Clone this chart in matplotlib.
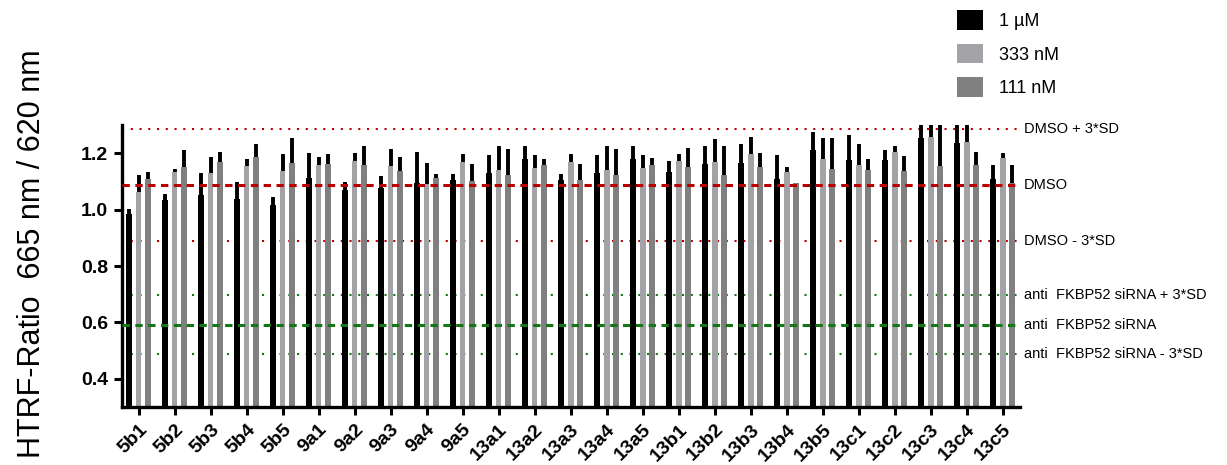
import matplotlib.pyplot as plt
import matplotlib.transforms as mtransforms
import numpy as np

plt.rcParams['font.family'] = ['Liberation Sans', 'DejaVu Sans']

# compounds on the x axis
labels = ['5b1', '5b2', '5b3', '5b4', '5b5', '9a1', '9a2', '9a3', '9a4', '9a5',
          '13a1', '13a2', '13a3', '13a4', '13a5', '13b1', '13b2', '13b3', '13b4', '13b5',
          '13c1', '13c2', '13c3', '13c4', '13c5']

# HTRF ratio means and upper errors, per concentration
v_1uM = [0.985, 1.035, 1.053, 1.039, 1.018, 1.112, 1.068, 1.078, 1.095, 1.104,
         1.128, 1.181, 1.104, 1.128, 1.181, 1.133, 1.163, 1.167, 1.108, 1.210,
         1.177, 1.177, 1.253, 1.236, 1.108]
e_1uM = [0.017, 0.020, 0.077, 0.059, 0.026, 0.088, 0.030, 0.040, 0.111, 0.023,
         0.064, 0.045, 0.023, 0.064, 0.045, 0.041, 0.061, 0.064, 0.084, 0.064,
         0.088, 0.036, 0.100, 0.100, 0.051]
v_333nM = [1.061, 1.133, 1.130, 1.153, 1.138, 1.159, 1.171, 1.153, 1.092, 1.168,
           1.141, 1.147, 1.168, 1.141, 1.147, 1.173, 1.168, 1.197, 1.133, 1.179,
           1.159, 1.204, 1.256, 1.241, 1.183]
e_333nM = [0.063, 0.011, 0.056, 0.027, 0.060, 0.027, 0.029, 0.061, 0.073, 0.029,
           0.084, 0.045, 0.029, 0.084, 0.045, 0.023, 0.082, 0.062, 0.018, 0.074,
           0.073, 0.023, 0.080, 0.080, 0.017]
v_111nM = [1.110, 1.151, 1.170, 1.188, 1.165, 1.163, 1.157, 1.138, 1.113, 1.102,
           1.124, 1.159, 1.104, 1.124, 1.159, 1.151, 1.121, 1.151, 1.094, 1.144,
           1.140, 1.138, 1.153, 1.159, 1.094]
e_111nM = [0.022, 0.059, 0.035, 0.045, 0.088, 0.034, 0.069, 0.050, 0.013, 0.061,
           0.092, 0.021, 0.059, 0.092, 0.023, 0.067, 0.103, 0.049, 0.000, 0.109,
           0.040, 0.053, 0.160, 0.044, 0.065]

series_names = ['1 µM', '333 nM', '111 nM']
series_colors = ['#000000', '#a3a3a7', '#808080']

# control reference levels
dmso = 1.087
dmso_3sd = 0.200
sirna = 0.592
sirna_3sd = 0.104

fig = plt.figure(figsize=(12.27, 4.65), dpi=100)
ax = fig.add_axes([0.0994, 0.1247, 0.7319, 0.6065])

x = np.arange(len(labels))
width = 0.16
offsets = [-0.265, 0.0, 0.265]
vals = [v_1uM, v_333nM, v_111nM]
errs = [e_1uM, e_333nM, e_111nM]

for v, e, off, col, name in zip(vals, errs, offsets, series_colors, series_names):
    ax.bar(x + off, v, width, color=col, label=name, zorder=2)
    ax.errorbar(x + off, v, yerr=[np.zeros(len(e)), e], fmt='none', ecolor='black',
                elinewidth=2.8, capsize=0, zorder=3)

red = '#b80000'
green = '#137813'
dot = (0, (1, 3.2))
dash = (0, (2.4, 1.8))
ax.axhline(dmso + dmso_3sd, color=red, ls=dot, lw=1.5, zorder=1)
ax.axhline(dmso, color=red, ls=dash, lw=2.2, zorder=4)
ax.axhline(dmso - dmso_3sd, color=red, ls=dot, lw=1.5, zorder=1)
ax.axhline(sirna + sirna_3sd, color=green, ls=dot, lw=1.5, zorder=1)
ax.axhline(sirna, color=green, ls=dash, lw=2.2, zorder=4)
ax.axhline(sirna - sirna_3sd, color=green, ls=dot, lw=1.5, zorder=1)

trans = mtransforms.blended_transform_factory(ax.transAxes, ax.transData)
ref_labels = [(dmso + dmso_3sd, 'DMSO + 3*SD'), (dmso, 'DMSO'), (dmso - dmso_3sd, 'DMSO - 3*SD'),
              (sirna + sirna_3sd, 'anti  FKBP52 siRNA + 3*SD'), (sirna, 'anti  FKBP52 siRNA'),
              (sirna - sirna_3sd, 'anti  FKBP52 siRNA - 3*SD')]
for yv, txt in ref_labels:
    ax.text(1.004, yv, txt, transform=trans, va='center', ha='left', fontsize=10.5, clip_on=False)

ax.set_xlim(-0.46, len(labels) - 1 + 0.48)
ax.set_ylim(0.3, 1.3)
ax.set_yticks([0.4, 0.6, 0.8, 1.0, 1.2])
ax.set_yticklabels(['0.4', '0.6', '0.8', '1.0', '1.2'], fontweight='bold', fontsize=14)
ax.set_xticks(x)
ax.set_xticklabels(labels, rotation=45, ha='right', rotation_mode='anchor',
                   fontweight='bold', fontsize=14)
ax.tick_params(axis='both', direction='out', width=2.2, length=6, pad=4)

for s in ['top', 'right']:
    ax.spines[s].set_visible(False)
for s in ['left', 'bottom']:
    ax.spines[s].set_linewidth(2.4)

fig.text(0.026, 0.455, 'HTRF-Ratio  665 nm / 620 nm', rotation=90, va='center', ha='center', fontsize=22)

fig.legend(loc='upper left', bbox_to_anchor=(0.767, 1.013), frameon=False, fontsize=13,
           handlelength=1.4, handleheight=1.3, labelspacing=0.75, handletextpad=0.9)

fig.savefig('out.png', dpi=100)
